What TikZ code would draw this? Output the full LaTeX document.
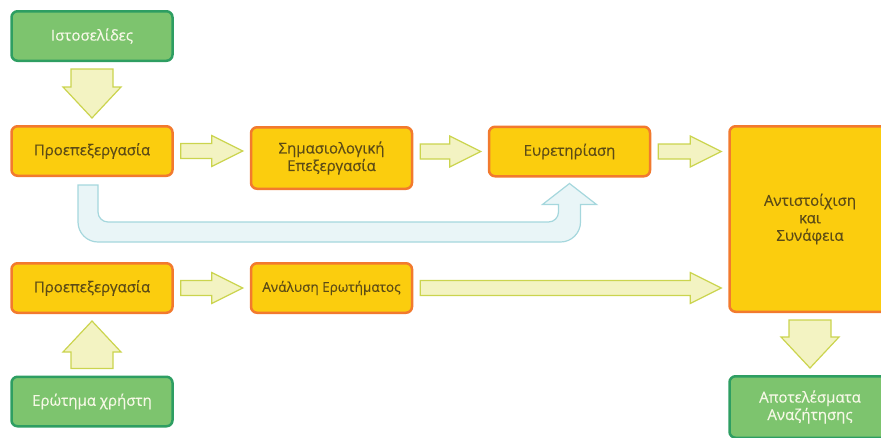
\documentclass[tikz,border=0pt]{standalone}
\usepackage{fontspec}
\setmainfont{Open Sans}[FakeBold=0.35]
\usepackage{xcolor}
\usetikzlibrary{calc}

\definecolor{boxyellow}{HTML}{FBCD0E}
\definecolor{boxline}{HTML}{F27A2E}
\definecolor{boxtext}{HTML}{5C4B16}
\definecolor{endgreen}{HTML}{7DC46E}
\definecolor{endline}{HTML}{2E9E62}
\definecolor{endtext}{HTML}{F6F8E6}
\definecolor{arrfill}{HTML}{F3F3C2}
\definecolor{arrline}{HTML}{CBD44E}
\definecolor{backfill}{HTML}{E9F5F7}
\definecolor{backline}{HTML}{A5D7DD}

% fat arrow from #1 to #2, shaft half width #3, head half width #4
\newcommand{\fatarrow}[4]{%
  \coordinate (fa-s) at ($(#1)!7pt!(#2)$);
  \coordinate (fa-e) at ($(#2)!7pt!(#1)$);
  \coordinate (fa-h) at ($(fa-e)!31pt!(fa-s)$);
  \draw[blockarrow] ($(fa-s)!#3pt!90:(fa-e)$) -- ($(fa-h)!#3pt!-90:(fa-s)$)
    -- ($(fa-h)!#4pt!-90:(fa-s)$) -- (fa-e) -- ($(fa-h)!#4pt!90:(fa-s)$)
    -- ($(fa-h)!#3pt!90:(fa-s)$) -- ($(fa-s)!#3pt!-90:(fa-e)$) -- cycle;}

\begin{document}
\begin{tikzpicture}[x=1pt,y=-1pt,
    box/.style={draw=boxline, fill=boxyellow, text=boxtext, line width=2.5pt,
      rounded corners=6pt, minimum width=161pt, minimum height=49.5pt,
      align=center, font=\fontsize{15}{17.5}\selectfont},
    endbox/.style={box, draw=endline, fill=endgreen, text=endtext},
    blockarrow/.style={draw=arrline, fill=arrfill, line width=1.2pt},
    backarrow/.style={draw=backline, fill=backfill, line width=1.2pt}]
    \useasboundingbox (0,0) rectangle (881,437);
    \clip (0,0) rectangle (881,437);
    %
    \node[endbox] (web) at (92,36) {Ιστοσελίδες};
    \node[box] (pre1) at (92,151) {Προεπεξεργασία};
    \node[box, minimum height=61.5pt] (sem) at (331.5,158) {Σημασιολογική\\Επεξεργασία};
    \node[box] (eur) at (569.5,151.5) {Ευρετηρίαση};
    \node[box, minimum height=185.5pt] (match) at (810,219) {Αντιστοίχιση\\και\\Συνάφεια};
    \node[box] (pre2) at (92,288) {Προεπεξεργασία};
    \node[box, font=\fontsize{13.5}{16}\selectfont] (ana) at (331.5,288) {Ανάλυση Ερωτήματος};
    \node[endbox] (query) at (92,401.5) {Ερώτημα χρήστη};
    \node[endbox, minimum height=61.5pt] (res) at (810,407) {Αποτελέσματα\\Αναζήτησης};
    %
    \fatarrow{web.south}{pre1.north}{21}{29}
    \fatarrow{pre1.east}{pre1.east -| sem.west}{7.5}{15.5}
    \fatarrow{eur.west -| sem.east}{eur.west}{7.5}{15.5}
    \fatarrow{eur.east}{eur.east -| match.west}{7.5}{15.5}
    \fatarrow{query.north}{pre2.south}{21}{29}
    \fatarrow{pre2.east}{ana.west}{7.5}{15.5}
    \fatarrow{ana.east}{ana.east -| match.west}{7.5}{15.5}
    \fatarrow{match.south}{res.north}{21}{29}
    %
    \coordinate (ustart) at ($(pre1.south)+(-4,8)$);
    \coordinate (uend) at ($(eur.south)+(0,6)$);
    \coordinate (ubase) at ($(ustart)+(0,47)$);
    \draw[backarrow] ($(ustart)+(-10,0)$) [rounded corners=20pt]
      -- ($(ustart|-ubase)+(-10,10)$) -- ($(uend|-ubase)+(11,10)$) [sharp corners]
      -- ($(uend)+(11,21)$) -- ($(uend)+(27,21)$) -- (uend) -- ($(uend)+(-27,21)$)
      -- ($(uend)+(-11,21)$) [rounded corners=10pt]
      -- ($(uend|-ubase)+(-11,-10)$) -- ($(ustart|-ubase)+(10,-10)$) [sharp corners]
      -- ($(ustart)+(10,0)$) -- cycle;
  \end{tikzpicture}
\end{document}
